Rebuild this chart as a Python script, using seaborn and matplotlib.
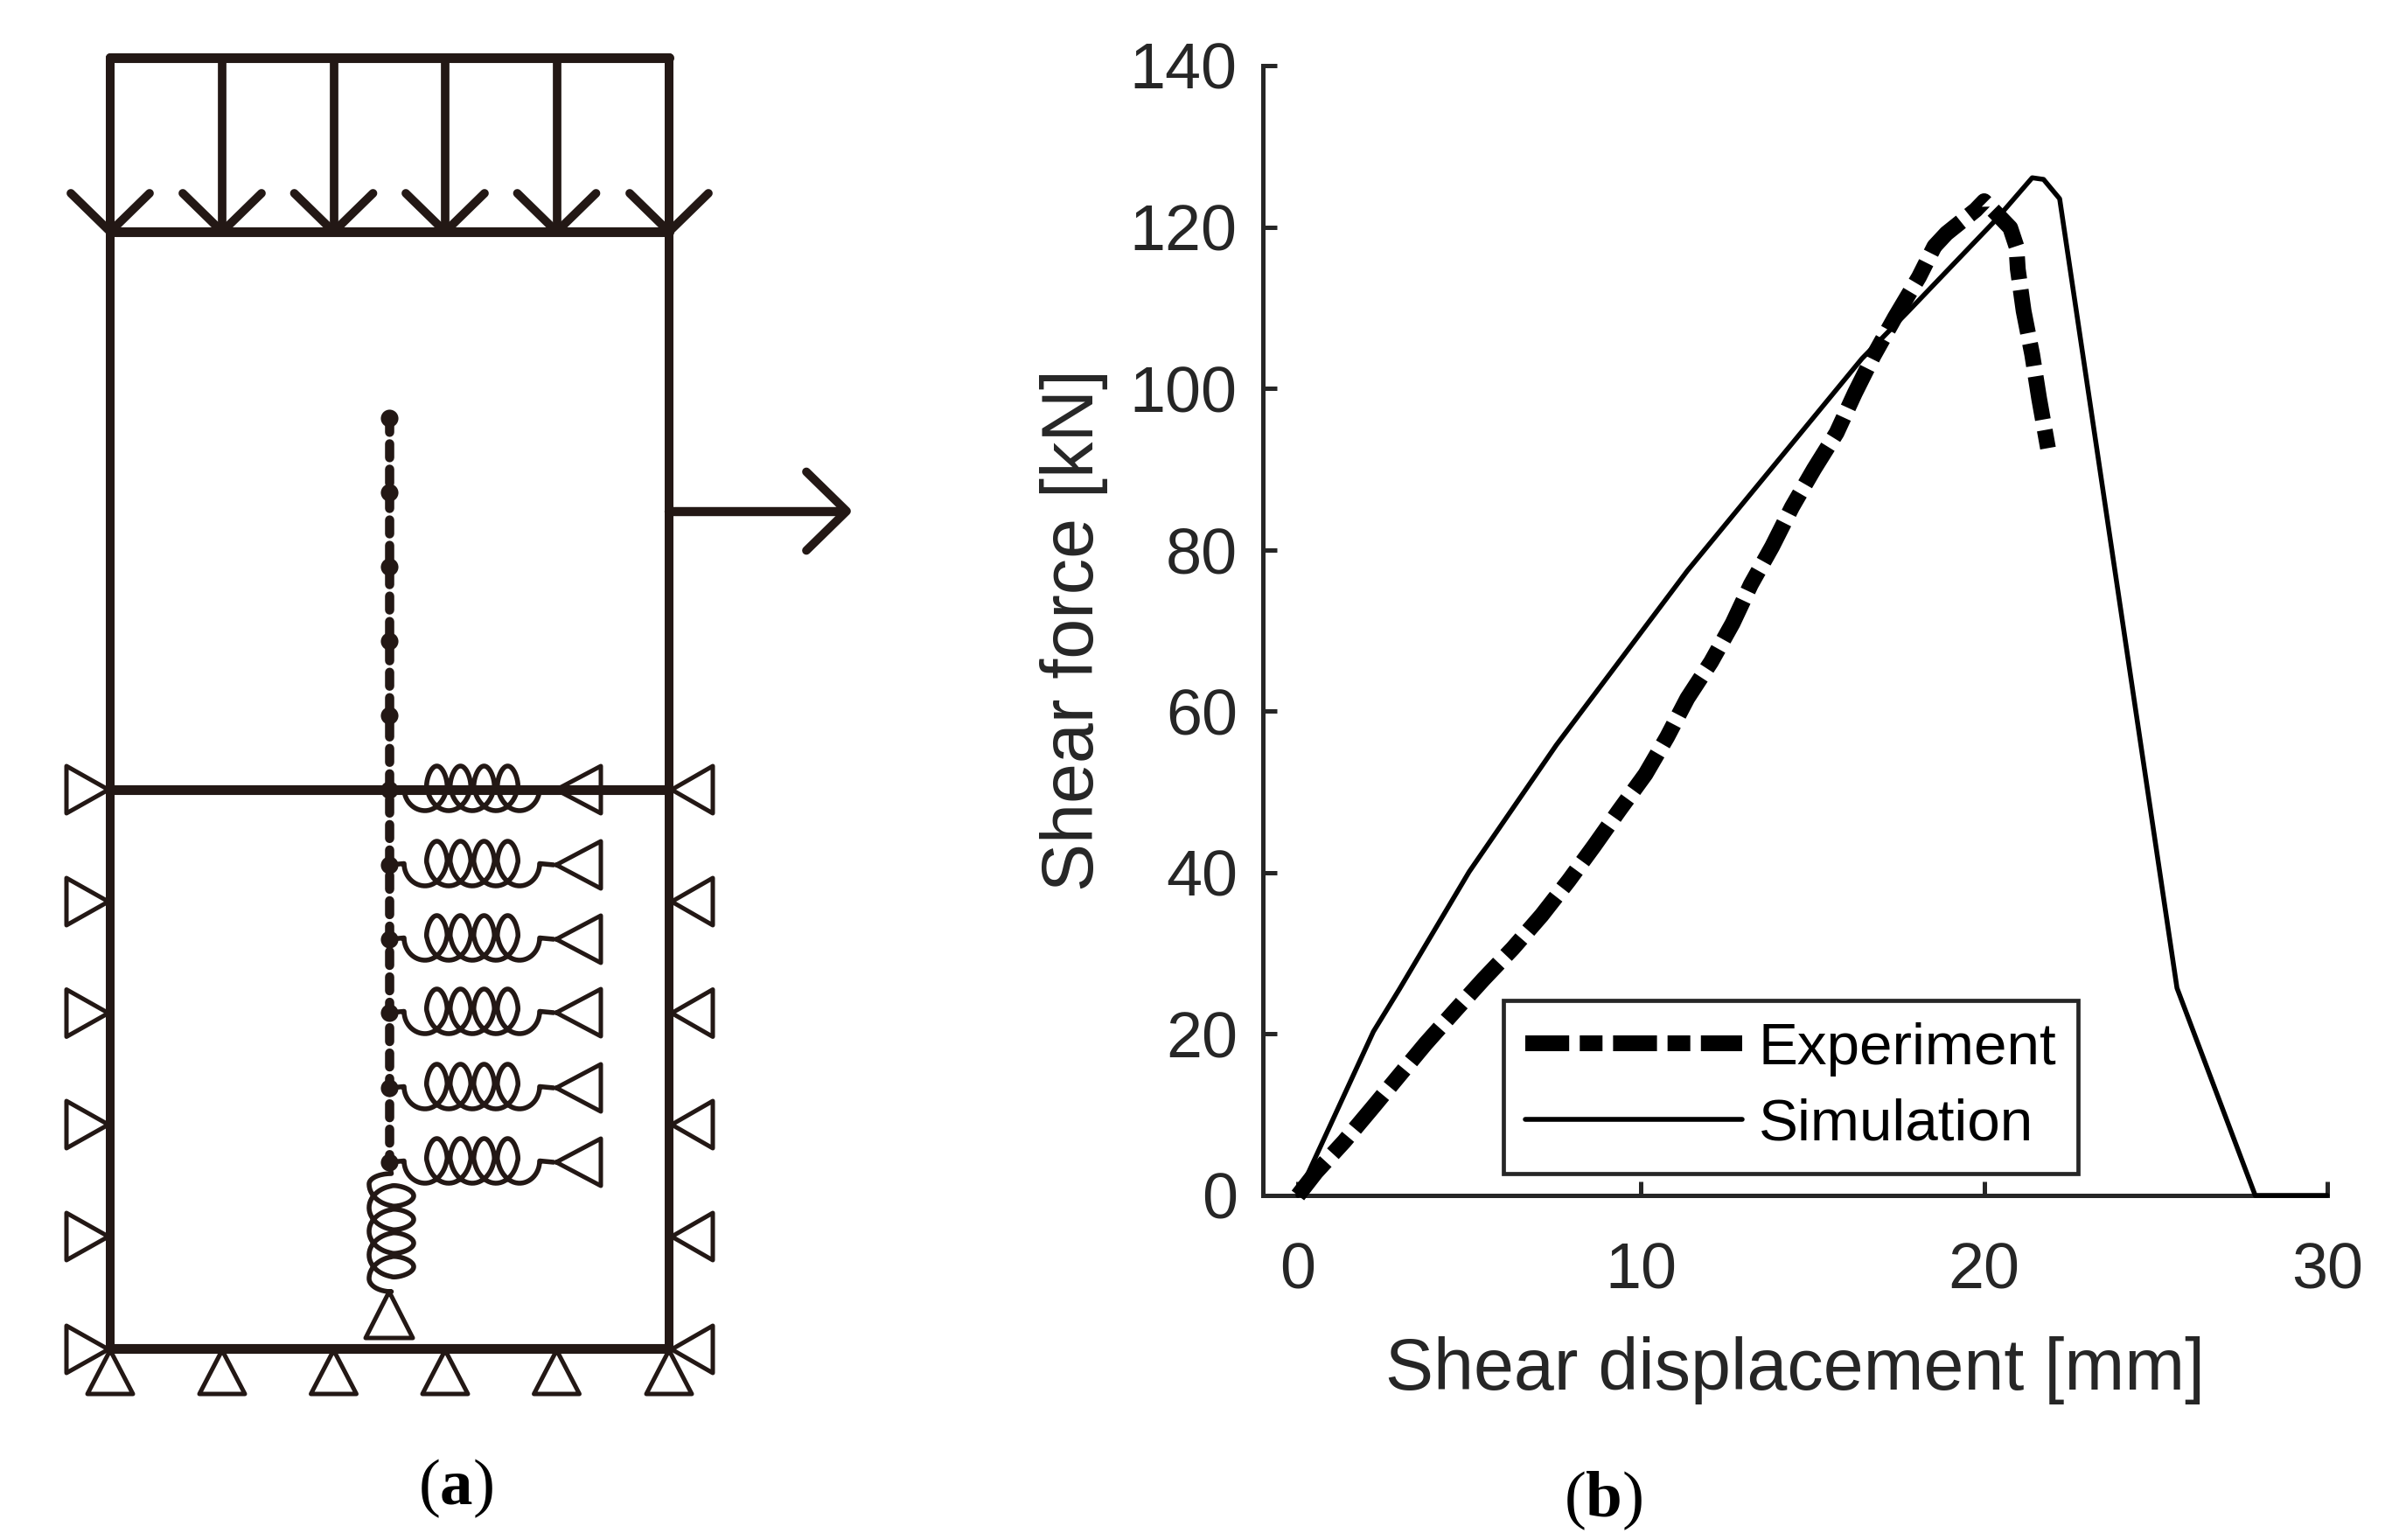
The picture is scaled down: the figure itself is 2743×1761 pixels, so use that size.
"""
Shear test figure: (a) block model with springs and supports, (b) shear force
against shear displacement for the experiment and the simulation.
"""

import numpy as np
import pandas as pd
import seaborn as sns
import matplotlib.pyplot as plt

W, H = 2743, 1761
DPI = 100

# chart values, panel (b)
exp_disp = [0, 0.53, 1.35, 2.16, 2.9, 3.72, 4.6, 5.41, 6.26, 7.1, 7.89, 8.63, 9.36, 10.13, 10.76, 11.35,
            12.04, 12.67, 13.2, 13.82, 14.4, 15.04, 15.7, 16.23, 16.77,
            17.4, 18.1, 18.55, 18.9, 19.75, 20.0, 20.33, 20.76, 20.94, 20.98, 21.15, 21.4, 21.6, 21.86]
exp_force = [0, 2.9, 6.7, 10.8, 14.6, 18.8, 23.0, 26.8, 30.6, 34.7, 39.0, 43.3, 47.7, 52.2, 56.8, 61.6,
             66.1, 70.9, 75.7, 80.4, 85.3, 90.0, 94.5, 99.4, 104.0,
             108.8, 113.8, 117.6, 119.2, 122.1, 123.2, 121.8, 119.9, 117.6, 114.8, 109.6, 104.2, 98.8, 92.6]
sim_disp = [0, 2.2, 2.95, 4.99, 7.53, 11.35, 16.44, 17.8, 20.3, 21.4, 21.73, 22.2, 25.62, 27.9, 30]
sim_force = [0, 20.3, 25.5, 40.1, 55.8, 77.4, 103.7, 109.6, 120.7, 126.1, 125.9, 123.5, 25.7, 0, 0]
x_ticks = [0, 10, 20, 30]
y_ticks = [0, 20, 40, 60, 80, 100, 120, 140]

# schematic geometry, panel (a), in image pixels
frame_x = [126, 254, 381.5, 509, 636.5, 765]
frame_y_top = 66
frame_y_load = 265
frame_y_mid = 903
frame_y_bottom = 1542
side_y = [903, 1031, 1158.5, 1286, 1414, 1543]
crack_x = 445
node_y = [478, 563, 648, 733, 818, 903, 989, 1074, 1158, 1244, 1329]
spring_y = [903, 989, 1074, 1158, 1244, 1329]
pull_y = 584.5
pull_end = 969

INK = '#231815'

sns.set_theme(style='ticks')
plt.rcParams['font.family'] = ['Liberation Sans', 'DejaVu Sans']
plt.rcParams['lines.dash_capstyle'] = 'butt'
plt.rcParams['mathtext.fontset'] = 'custom'
plt.rcParams['mathtext.bf'] = 'Liberation Serif:bold'
plt.rcParams['mathtext.rm'] = 'Liberation Serif'


def poly(ax, xs, ys, lw=3.6, **kw):
    kw.setdefault('solid_capstyle', 'round')
    kw.setdefault('solid_joinstyle', 'round')
    ax.plot(xs, ys, color=INK, lw=lw, **kw)


def coil(start, stop, lead_in, pitch=27, loops=4, r=18, h=25.5):
    """Spring wire in local coordinates: u along the spring, v across it."""
    t = np.linspace(np.pi, (2 * loops + 1) * np.pi, 400)
    u0 = start + lead_in
    u = u0 + pitch * (t - np.pi) / (2 * np.pi) - r * np.sin(t)
    v = -h * np.cos(t)
    # loop tips are pointed on the upper side
    v = np.where(v < 0, -h * np.abs(np.cos(t)) ** 1.5, v)
    a = np.linspace(0, np.pi / 2, 30)
    u_in = u0 - lead_in * np.cos(a)
    v_in = h * np.sin(a)
    u_end = u[-1]
    u_out = u_end + (stop - u_end) * np.sin(a)
    v_out = h * np.cos(a)
    return np.r_[u_in, u, u_out], np.r_[v_in, v, v_out]


fig = plt.figure(figsize=(W / DPI, H / DPI), dpi=DPI)

# panel (a)
ax_a = fig.add_axes([0, 0, 0.5, 1])
ax_a.set_xlim(0, W / 2)
ax_a.set_ylim(H, 0)
ax_a.axis('off')

for y_line in [frame_y_top, frame_y_load, frame_y_mid, frame_y_bottom]:
    poly(ax_a, [frame_x[0], frame_x[-1]], [y_line, y_line], lw=8)
for x_line in [frame_x[0], frame_x[-1]]:
    poly(ax_a, [x_line, x_line], [frame_y_top, frame_y_bottom], lw=7.2)

# load arrows
for x_arrow in frame_x:
    poly(ax_a, [x_arrow, x_arrow], [frame_y_top, frame_y_load - 6], lw=7)
    poly(ax_a, [x_arrow - 45, x_arrow, x_arrow + 45],
         [frame_y_load - 44, frame_y_load, frame_y_load - 44], lw=7)
poly(ax_a, [frame_x[-1], pull_end - 4], [pull_y, pull_y], lw=7.5)
poly(ax_a, [pull_end - 47, pull_end - 1, pull_end - 47],
     [pull_y - 45, pull_y, pull_y + 45], lw=7)

# supports around the block
for y_tri in side_y:
    poly(ax_a, [124, 76, 76, 124], [y_tri, y_tri - 27, y_tri + 27, y_tri], lw=3.6)
    poly(ax_a, [768, 815, 815, 768], [y_tri, y_tri - 27, y_tri + 27, y_tri], lw=3.6)
for x_tri in frame_x:
    poly(ax_a, [x_tri, x_tri - 26, x_tri + 26, x_tri],
         [frame_y_bottom + 2, 1594, 1594, frame_y_bottom + 2], lw=3.6)

# discontinuity with interface nodes
ax_a.plot([crack_x, crack_x], [node_y[0], node_y[-1]], color=INK, lw=7.6,
          dashes=(1.5, 1.25), dash_capstyle='round')
sns.scatterplot(x=[crack_x] * len(node_y), y=node_y, ax=ax_a, color=INK, s=210,
                linewidth=0, legend=False)

# horizontal springs
for y_spring in spring_y:
    u, v = coil(462, 617, 24)
    poly(ax_a, np.r_[crack_x, u, 633], np.r_[y_spring, y_spring - 1.5 + v, y_spring], lw=4)
    poly(ax_a, [636, 687, 687, 636], [y_spring, y_spring - 27, y_spring + 27, y_spring], lw=3.6)

# vertical spring and its support
u, v = coil(1342, 1477, 12)
poly(ax_a, np.r_[445, 447.5 - v, 445], np.r_[1330, u, 1477], lw=4)
poly(ax_a, [445, 418, 472, 445], [1477, 1530, 1530, 1477], lw=3.6)

ax_a.text(521, 1702, r'($\mathbf{a}$)', family='Liberation Serif', fontsize=54,
          color='black', ha='center', va='center')

# panel (b)
ax_b = fig.add_axes([1444 / W, 1 - 1367 / H, (2661 - 1444) / W, (1367 - 75) / H])
curves = pd.concat([
    pd.DataFrame({'disp': exp_disp, 'force': exp_force, 'series': 'Experiment'}),
    pd.DataFrame({'disp': sim_disp, 'force': sim_force, 'series': 'Simulation'}),
], ignore_index=True)

sns.lineplot(data=curves, x='disp', y='force', hue='series', style='series', size='series',
             palette={'Experiment': 'black', 'Simulation': 'black'},
             sizes={'Experiment': 13, 'Simulation': 4},
             dashes={'Experiment': (2.78, 0.67, 1.44, 0.67), 'Simulation': ''},
             estimator=None, sort=False, ax=ax_b, clip_on=False, zorder=3)

ax_b.set_xlim(-1.02, 30)
ax_b.set_ylim(0, 140)
ax_b.set_xticks(x_ticks)
ax_b.set_yticks(y_ticks)
ax_b.tick_params(direction='in', length=11.5, width=3.6, labelsize=53)
ax_b.tick_params(axis='x', pad=38)
ax_b.tick_params(axis='y', pad=21)
ax_b.set_xlabel('Shear displacement [mm]', fontsize=59.5, labelpad=28)
ax_b.set_ylabel('Shear force [kN]', fontsize=59.5, labelpad=18)
sns.despine(ax=ax_b)
for side in ['left', 'bottom']:
    ax_b.spines[side].set_linewidth(3.6)

sns.move_legend(ax_b, 'lower left', bbox_to_anchor=((1719 - 1444) / 1217, (1367 - 1342) / 1292),
                title=None, frameon=True, fancybox=False, framealpha=1, edgecolor='#262626',
                fontsize=48.5, labelcolor='black', borderaxespad=0, borderpad=0.37,
                labelspacing=0.36, handlelength=3.68, handletextpad=0.28)
ax_b.get_legend().get_frame().set_linewidth(3.4)

fig.text(1833 / W, 1 - 1716 / H, r'($\mathbf{b}$)', family='Liberation Serif', fontsize=54,
         color='black', ha='center', va='center')

fig.savefig('out.png', dpi=DPI, facecolor='white')
plt.close(fig)
